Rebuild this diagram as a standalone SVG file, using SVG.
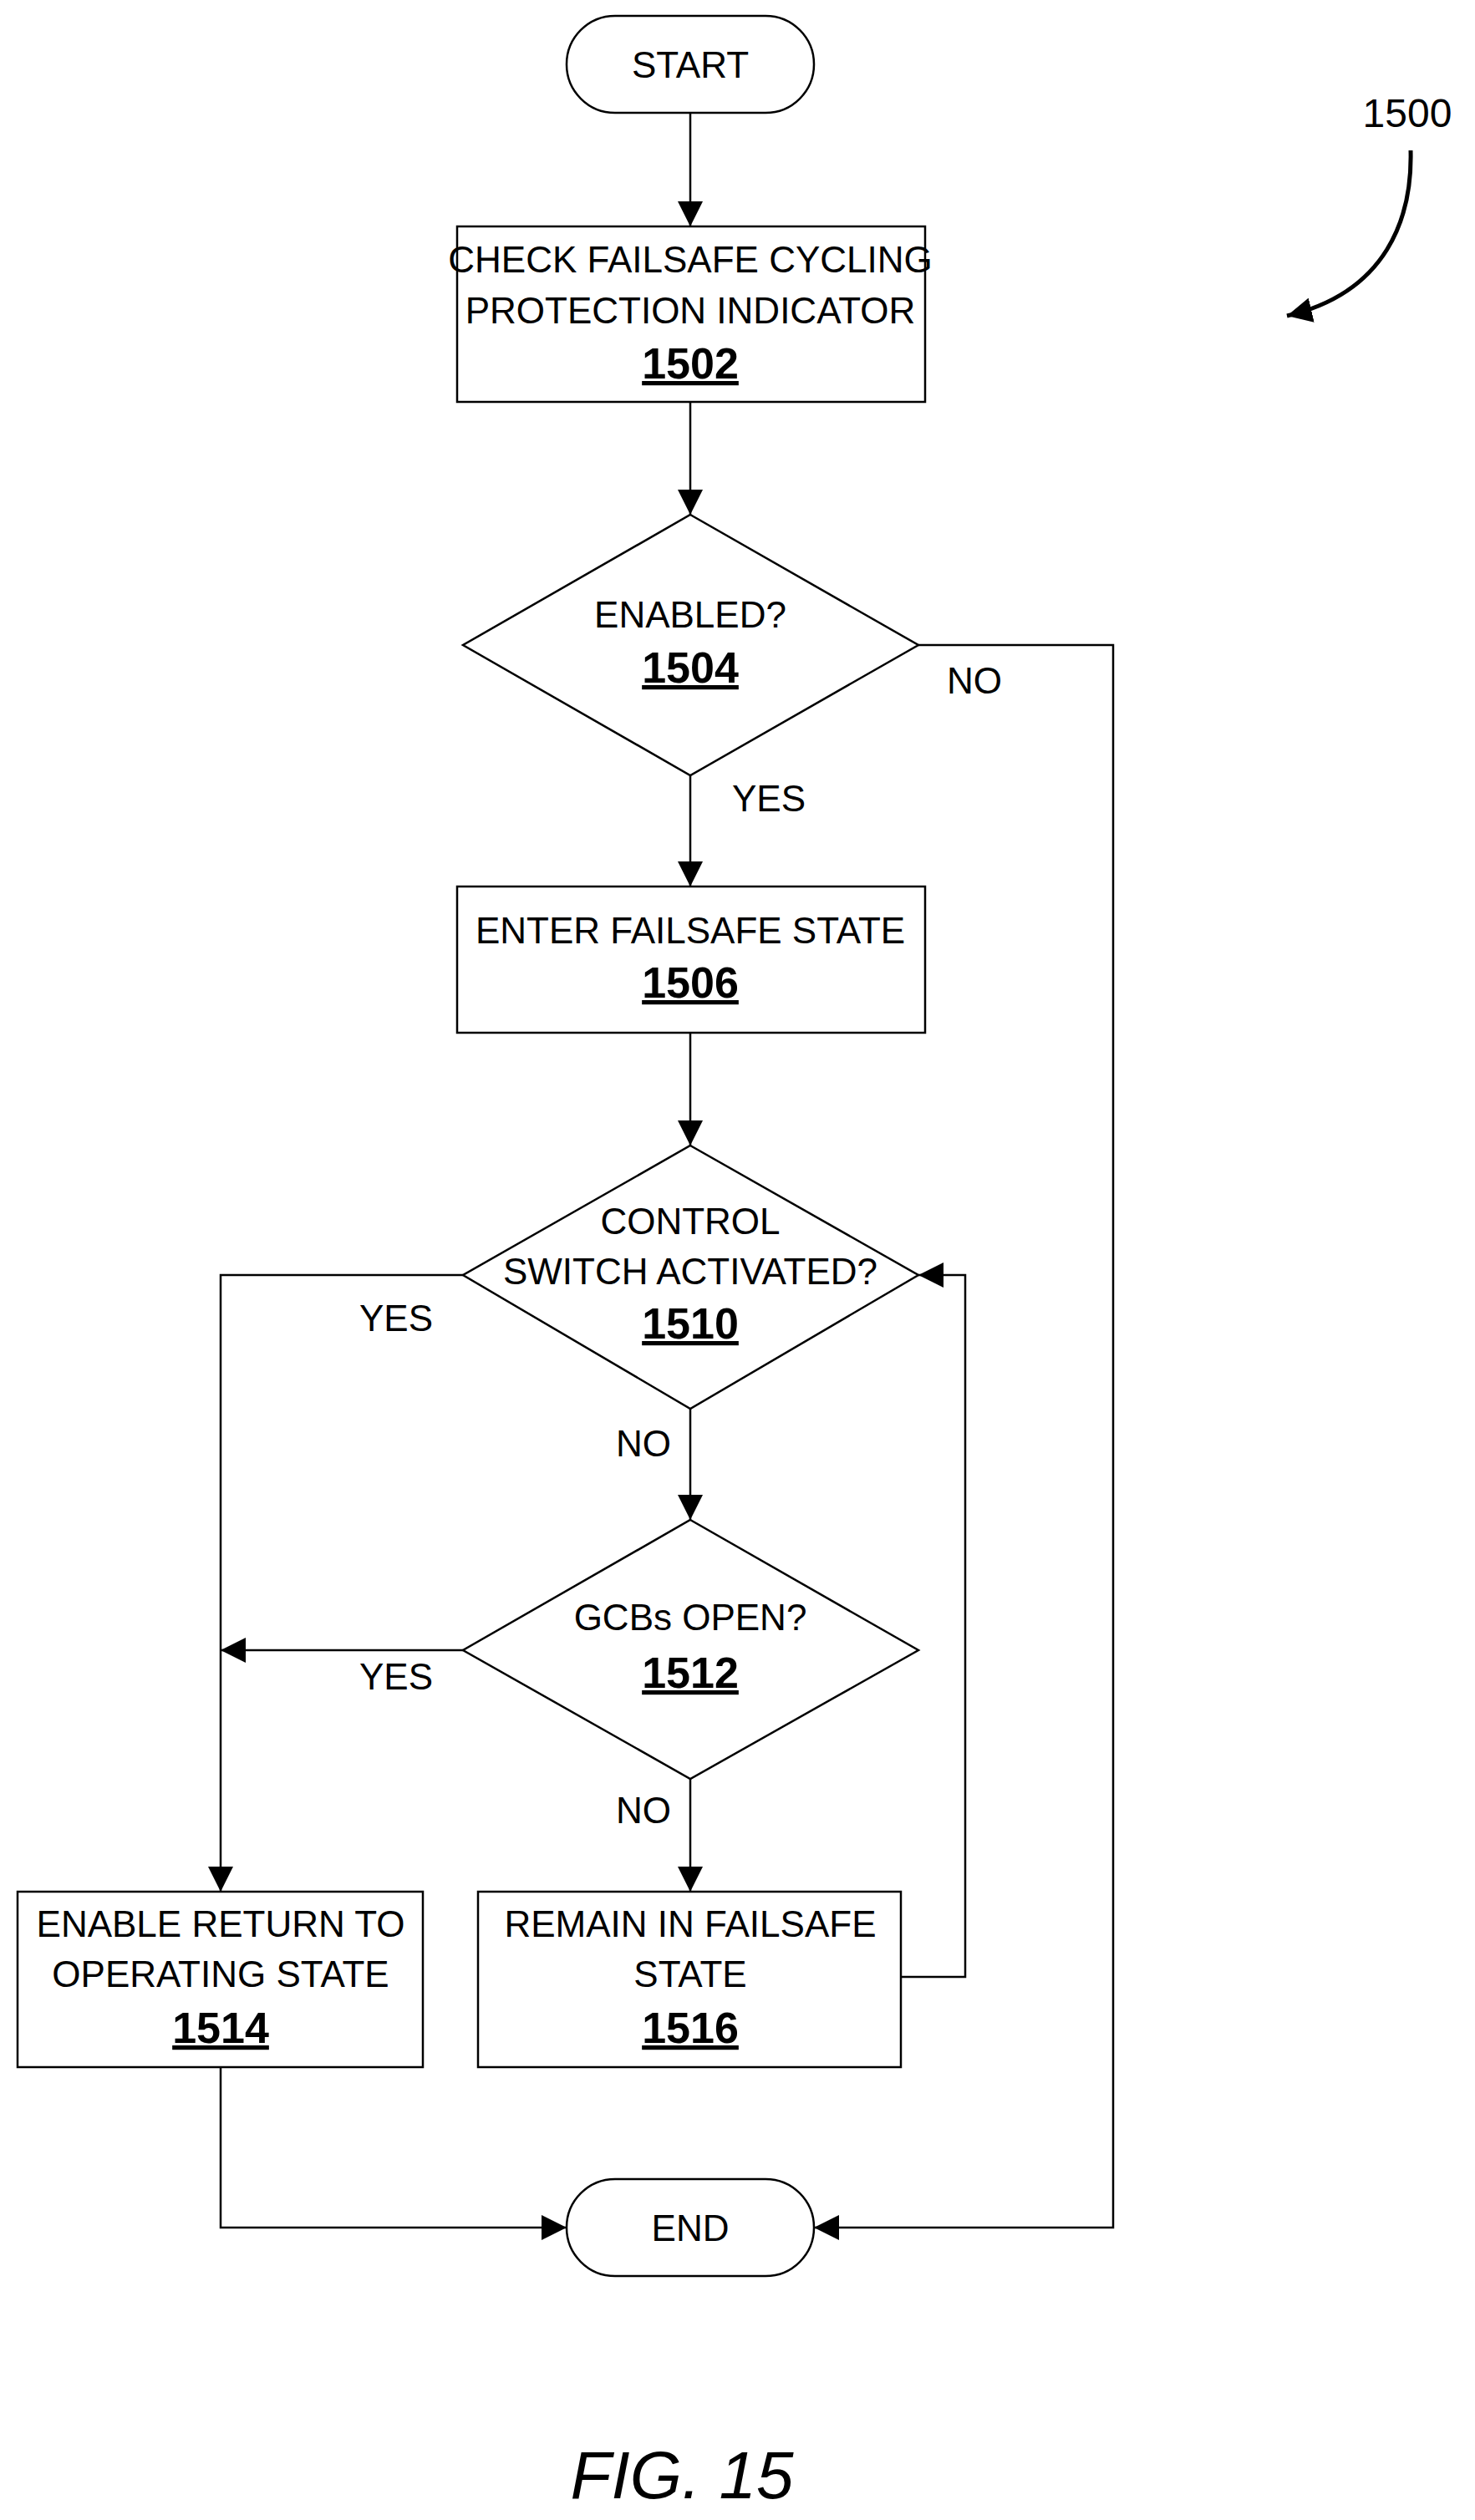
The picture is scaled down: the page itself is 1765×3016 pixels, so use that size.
<svg xmlns="http://www.w3.org/2000/svg" width="1765" height="3016" viewBox="0 0 1765 3016">
<style>
.s{fill:#fff;stroke:#000;stroke-width:2.5}
.l{fill:none;stroke:#000;stroke-width:2.5}
text{font-family:"Liberation Sans",Arial,sans-serif;font-size:44px;text-anchor:middle;fill:#000}
.n{font-size:52px;font-weight:bold;text-decoration:underline}
</style>
<defs>
<marker id="a" viewBox="0 0 10 10" refX="10" refY="5" markerWidth="10" markerHeight="10" markerUnits="userSpaceOnUse" orient="auto"><path d="M0,0L10,5L0,10z" transform="scale(1)"/></marker>
<marker id="b" viewBox="0 0 20 20" refX="20" refY="10" markerWidth="30" markerHeight="30" markerUnits="userSpaceOnUse" orient="auto"><path d="M0,0L20,10L0,20z"/></marker>
</defs>
<g id="connectors">
<path class="l" marker-end="url(#b)" d="M826,135V271"/>
<path class="l" marker-end="url(#b)" d="M826,481V616"/>
<path class="l" marker-end="url(#b)" d="M826,928V1061"/>
<path class="l" marker-end="url(#b)" d="M826,1236V1371"/>
<path class="l" marker-end="url(#b)" d="M826,1686V1819"/>
<path class="l" marker-end="url(#b)" d="M826,2129V2264"/>
<path class="l" marker-end="url(#b)" d="M554,1526H264V2264"/>
<path class="l" marker-end="url(#b)" d="M554,1975H264"/>
<path class="l" marker-end="url(#b)" d="M1078,2366H1155V1526H1099"/>
<path class="l" marker-end="url(#b)" d="M1099,772H1332V2666H974"/>
<path class="l" marker-end="url(#b)" d="M264,2474V2666H678"/>
<text x="1166" y="830">NO</text>
<text x="920" y="971">YES</text>
<text x="474" y="1593">YES</text>
<text x="770" y="1743">NO</text>
<text x="474" y="2022">YES</text>
<text x="770" y="2182">NO</text>
</g>
<g id="start"><rect class="s" x="678" y="19" width="296" height="116" rx="58"/><text x="826" y="93">START</text></g>
<g id="n1502"><rect class="s" x="547" y="271" width="560" height="210"/><text x="826" y="326">CHECK FAILSAFE CYCLING</text><text x="826" y="387">PROTECTION INDICATOR</text><text class="n" x="826" y="453">1502</text></g>
<g id="n1504"><path class="s" d="M826,616L1099,772L826,928L554,772z"/><text x="826" y="751">ENABLED?</text><text class="n" x="826" y="817">1504</text></g>
<g id="n1506"><rect class="s" x="547" y="1061" width="560" height="175"/><text x="826" y="1129">ENTER FAILSAFE STATE</text><text class="n" x="826" y="1194">1506</text></g>
<g id="n1510"><path class="s" d="M826,1371L1099,1526L826,1686L554,1526z"/><text x="826" y="1477">CONTROL</text><text x="826" y="1537">SWITCH ACTIVATED?</text><text class="n" x="826" y="1602">1510</text></g>
<g id="n1512"><path class="s" d="M826,1819L1099,1975L826,2129L554,1975z"/><text x="826" y="1951">GCBs OPEN?</text><text class="n" x="826" y="2020">1512</text></g>
<g id="n1514"><rect class="s" x="21" y="2264" width="485" height="210"/><text x="264" y="2318">ENABLE RETURN TO</text><text x="264" y="2378">OPERATING STATE</text><text class="n" x="264" y="2445">1514</text></g>
<g id="n1516"><rect class="s" x="572" y="2264" width="506" height="210"/><text x="826" y="2318">REMAIN IN FAILSAFE</text><text x="826" y="2378">STATE</text><text class="n" x="826" y="2445">1516</text></g>
<g id="end"><rect class="s" x="678" y="2608" width="296" height="116" rx="58"/><text x="826" y="2682">END</text></g>
<g id="ref"><text x="1684" y="152" style="font-size:48px">1500</text><path d="M1688,180C1690,260 1660,350 1540,378" fill="none" stroke="#000" stroke-width="5" marker-end="url(#b)"/></g>
<text x="816" y="2990" style="font-size:80px;font-style:italic">FIG. 15</text>
</svg>
